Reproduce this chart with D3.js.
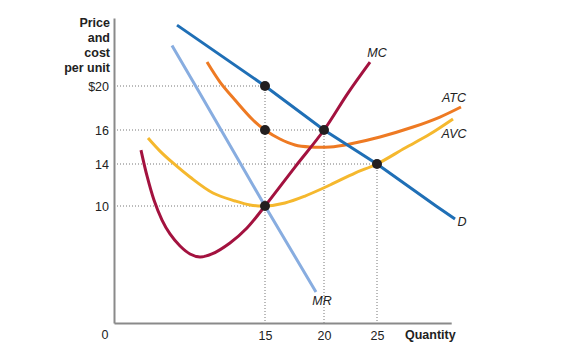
<!DOCTYPE html>
<html>
<head>
<meta charset="utf-8">
<script src="https://cdn.jsdelivr.net/npm/d3@7"></script>
<style>
  body { margin: 0; background: #fff; }
  svg { font-family: "Liberation Sans", Arial, sans-serif; }
</style>
</head>
<body>
<svg width="577" height="362"></svg>
<script>
// Quantity / price pairs
const demand = [[6.26, 25.55], [15, 20], [20, 16], [25, 14], [30.57, 10], [32.36, 8.89]];
const marginalRevenue = [[5.76, 23.7], [8.11, 20], [10.64, 16], [12.59, 14], [15, 10], [19.32, 2.65]];
const marginalCost = [
  [2.68, 14.82], [3.28, 12.86], [3.97, 10.57], [4.77, 8.8], [5.56, 7.61], [6.56, 6.58],
  [7.55, 5.9], [8.54, 5.64], [9.73, 5.9], [11.52, 6.84], [13.21, 8.12],
  [15, 10], [17.54, 13.71], [20, 16], [22.26, 19.36], [24.34, 22.18],
];
const averageTotalCost = [
  [9.24, 22.18], [10.53, 20.36], [12.02, 18.73], [13.81, 16.91], [15, 16], [16.27, 15.47],
  [17.54, 15.12], [18.81, 15.0], [20.57, 15.0], [22.45, 15.18], [25.28, 15.59],
  [28.4, 16.27], [30.94, 17.18], [32.92, 18.09],
];
const averageVariableCost = [
  [3.38, 15.53], [4.57, 14.76], [5.86, 14.06], [7.55, 12.76], [9.83, 11.24], [12.02, 10.48],
  [13.51, 10.1], [15, 10], [16.69, 10.29], [18.39, 10.95], [20.57, 12.0], [22.92, 13.14],
  [25, 14], [27.64, 14.94], [30, 15.76], [32.17, 17.0],
];
const keyPoints = [[15, 20], [15, 16], [15, 10], [20, 16], [25, 14]];
const priceTicks = [10, 14, 16, 20];
const quantityTicks = [15, 20, 25];

const svg = d3.select('svg');

// The textbook figure is not drawn to a uniform scale, so use piecewise scales
const x = d3.scaleLinear()
    .domain([0, 15, 20, 25, 32])
    .range([114, 265, 324, 377, 451.2]);
const y = d3.scaleLinear()
    .domain([0, 10, 14, 16, 20, 26.2])
    .range([323, 206, 164, 130, 86, 18]);

// Dotted guide lines
const guides = svg.append('g')
    .attr('stroke', '#777')
    .attr('stroke-width', 1)
    .attr('stroke-dasharray', '1,2');
keyPoints.filter((d) => !(d[0] === 15 && d[1] === 16)).forEach((d) => {
  guides.append('line')
      .attr('x1', x(0)).attr('x2', x(d[0]))
      .attr('y1', y(d[1])).attr('y2', y(d[1]));
});
[[15, 20], [20, 16], [25, 14]].forEach((d) => {
  guides.append('line')
      .attr('x1', x(d[0])).attr('x2', x(d[0]))
      .attr('y1', y(d[1])).attr('y2', y(0));
});

// Axes
const yAxis = svg.append('g')
    .attr('transform', `translate(${x(0)},0)`)
    .call(d3.axisLeft(y).tickValues(priceTicks).tickSize(0).tickPadding(5)
        .tickFormat((d) => d === 20 ? '$20' : d));
const xAxis = svg.append('g')
    .attr('transform', `translate(0,${y(0)})`)
    .call(d3.axisBottom(x).tickValues(quantityTicks).tickSize(0).tickPadding(8));
[xAxis, yAxis].forEach((g) => {
  g.select('.domain').attr('stroke', '#8a8a8a').attr('stroke-width', 2);
  g.selectAll('text').attr('font-size', 12.5).attr('fill', '#222')
      .attr('font-family', '"Liberation Sans", Arial, sans-serif');
});

svg.append('text')
    .attr('x', 105).attr('y', 339)
    .attr('text-anchor', 'middle')
    .attr('font-size', 12.5).attr('fill', '#222')
    .text('0');

svg.append('text')
    .attr('x', 405).attr('y', 339)
    .attr('font-size', 12.5).attr('font-weight', 'bold').attr('fill', '#222')
    .text('Quantity');

const yTitle = svg.append('text')
    .attr('text-anchor', 'end')
    .attr('font-size', 12.5).attr('font-weight', 'bold').attr('fill', '#222');
['Price', 'and', 'cost', 'per unit'].forEach((t, i) => {
  yTitle.append('tspan').attr('x', 110).attr('y', 27 + i * 15).text(t);
});

// Curves
const line = d3.line()
    .x((d) => x(d[0]))
    .y((d) => y(d[1]));

const curves = [
  {data: marginalRevenue, color: '#88ade0', curve: d3.curveLinear},
  {data: averageVariableCost, color: '#f5b82e', curve: d3.curveCatmullRom},
  {data: averageTotalCost, color: '#ee7a23', curve: d3.curveCatmullRom},
  {data: demand, color: '#1f6fb6', curve: d3.curveLinear},
  {data: marginalCost, color: '#a3123f', curve: d3.curveCatmullRom},
];
svg.append('g')
    .attr('fill', 'none')
    .attr('stroke-width', 3)
    .selectAll('path')
    .data(curves)
    .enter()
    .append('path')
    .attr('stroke', (d) => d.color)
    .attr('d', (d) => line.curve(d.curve)(d.data));

svg.append('g')
    .selectAll('circle')
    .data(keyPoints)
    .enter()
    .append('circle')
    .attr('cx', (d) => x(d[0]))
    .attr('cy', (d) => y(d[1]))
    .attr('r', 5)
    .attr('fill', '#231f20');

// Curve labels
const labels = [
  {text: 'MC', x: 377, y: 57},
  {text: 'ATC', x: 454, y: 102},
  {text: 'AVC', x: 454, y: 138},
  {text: 'D', x: 462, y: 226},
  {text: 'MR', x: 322, y: 305},
];
svg.append('g')
    .selectAll('text')
    .data(labels)
    .enter()
    .append('text')
    .attr('x', (d) => d.x)
    .attr('y', (d) => d.y)
    .attr('text-anchor', 'middle')
    .attr('font-size', 12.5)
    .attr('font-style', 'italic')
    .attr('fill', '#222')
    .text((d) => d.text);
</script>
</body>
</html>
